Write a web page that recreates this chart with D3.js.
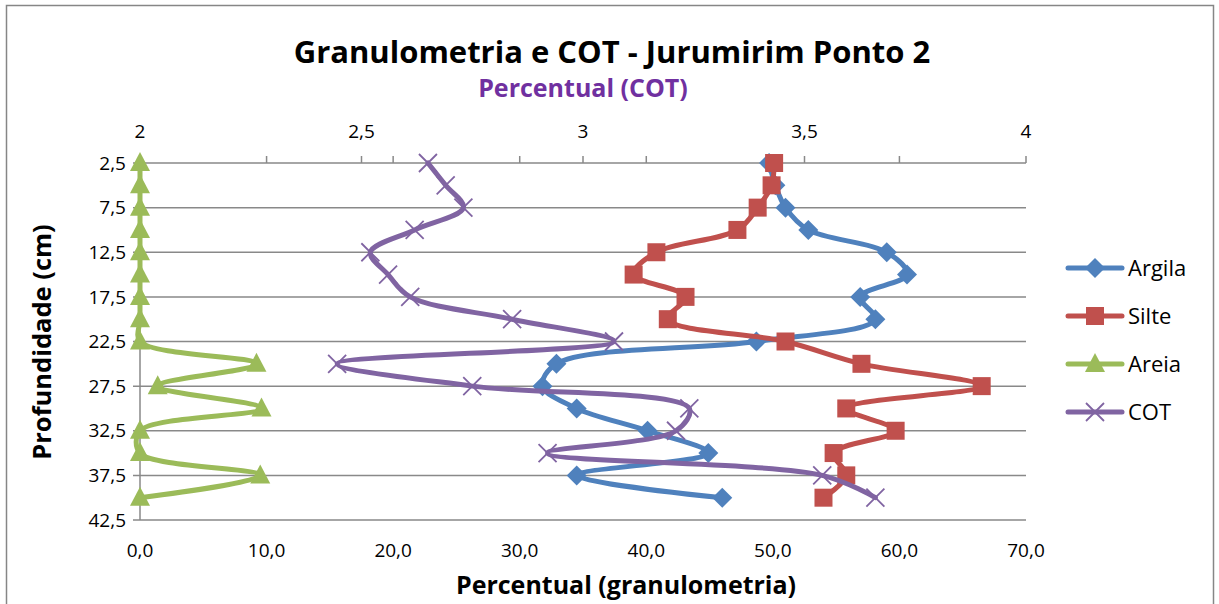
<!DOCTYPE html>
<html>
<head>
<meta charset="utf-8">
<script src="https://cdn.jsdelivr.net/npm/d3@7"></script>
<style>
  body { margin: 0; background: #fff; }
  svg text { font-family: "Open Sans", "Noto Sans", sans-serif; }
</style>
</head>
<body>
<div id="chart"></div>
<script>
//-- data
const depths = [2.5, 5, 7.5, 10, 12.5, 15, 17.5, 20, 22.5, 25, 27.5, 30, 32.5, 35, 37.5, 40];
const argila = [49.7, 50.2, 51.0, 52.8, 59.0, 60.6, 56.9, 58.1, 48.7, 32.9, 31.8, 34.5, 40.1, 44.9, 34.5, 46.0];
const silte = [50.1, 49.9, 48.8, 47.2, 40.8, 39.0, 43.1, 41.7, 51.0, 57.0, 66.5, 55.8, 59.7, 54.8, 55.8, 54.0];
const areia = [0, 0, 0, 0, 0, 0, 0, 0, 0, 9.2, 1.4, 9.6, 0, 0, 9.5, 0];
const cot = [2.65, 2.69, 2.73, 2.62, 2.52, 2.56, 2.61, 2.84, 3.07, 2.445, 2.75, 3.24, 3.21, 2.92, 3.54, 3.66];
const depthTicks = [2.5, 7.5, 12.5, 17.5, 22.5, 27.5, 32.5, 37.5, 42.5];
const bottomTicks = [0, 10, 20, 30, 40, 50, 60, 70];
const topTicks = [2, 2.5, 3, 3.5, 4];

const series = [
  { name: "Argila", values: argila, axis: "bottom", color: "#4F81BD", marker: "diamond" },
  { name: "Silte", values: silte, axis: "bottom", color: "#C0504D", marker: "square" },
  { name: "Areia", values: areia, axis: "bottom", color: "#9BBB59", marker: "triangle" },
  { name: "COT", values: cot, axis: "top", color: "#8064A2", marker: "x" }
];

//-- dimensions
const width = 1219, height = 604;
const plot = { left: 140, right: 1026, top: 163, bottom: 520 };
const gridColor = "#898989";
const fmt = (d) => d3.format(".1f")(d).replace(".", ",");
const fmtTop = (d) => String(d).replace(".", ",");

const svg = d3.select("#chart").append("svg")
  .attr("width", width).attr("height", height);

svg.append("rect")
  .attr("x", 6.5).attr("y", 5.5).attr("width", 1207).attr("height", 620)
  .attr("fill", "#fff").attr("stroke", "#868686").attr("stroke-width", 1.5);

const x = d3.scaleLinear().domain([0, 70]).range([plot.left, plot.right]);
const x2 = d3.scaleLinear().domain([2, 4]).range([plot.left, plot.right]);
const y = d3.scaleLinear().domain([2.5, 42.5]).range([plot.top, plot.bottom]);

//-- horizontal gridlines + left ticks
svg.append("g").selectAll("line").data(depthTicks).join("line")
  .attr("x1", plot.left - 7).attr("x2", plot.right)
  .attr("y1", (d) => y(d)).attr("y2", (d) => y(d))
  .attr("stroke", gridColor).attr("stroke-width", 1.5);

//-- left axis line
svg.append("line")
  .attr("x1", plot.left).attr("x2", plot.left)
  .attr("y1", plot.top).attr("y2", plot.bottom)
  .attr("stroke", gridColor).attr("stroke-width", 1.5);

//-- upward ticks on the top line (both scales)
const upTicks = topTicks.map((d) => x2(d)).concat(bottomTicks.slice(1, -1).map((d) => x(d)));
svg.append("g").selectAll("line").data(upTicks).join("line")
  .attr("x1", (d) => d).attr("x2", (d) => d)
  .attr("y1", plot.top).attr("y2", plot.top - 7)
  .attr("stroke", gridColor).attr("stroke-width", 1.5);

//-- tick labels
svg.append("g").selectAll("text").data(depthTicks).join("text")
  .attr("x", plot.left - 14).attr("y", (d) => y(d)).attr("dy", "0.35em")
  .attr("text-anchor", "end").attr("font-size", 19).attr("fill", "#000")
  .text(fmtTop);

svg.append("g").selectAll("text").data(bottomTicks).join("text")
  .attr("x", (d) => x(d)).attr("y", 557)
  .attr("text-anchor", "middle").attr("font-size", 19).attr("fill", "#000")
  .text(fmt);

svg.append("g").selectAll("text").data(topTicks).join("text")
  .attr("x", (d) => x2(d)).attr("y", 138)
  .attr("text-anchor", "middle").attr("font-size", 19).attr("fill", "#000")
  .text(fmtTop);

//-- titles
svg.append("text").attr("x", 612).attr("y", 63).attr("text-anchor", "middle")
  .attr("font-size", 31).attr("font-weight", "bold").attr("fill", "#000")
  .text("Granulometria e COT - Jurumirim Ponto 2");
svg.append("text").attr("x", 583).attr("y", 97).attr("text-anchor", "middle")
  .attr("font-size", 25).attr("font-weight", "bold").attr("fill", "#7030A0")
  .text("Percentual (COT)");
svg.append("text").attr("x", 626).attr("y", 594).attr("text-anchor", "middle")
  .attr("font-size", 25).attr("font-weight", "bold").attr("fill", "#000")
  .text("Percentual (granulometria)");
svg.append("text").attr("transform", "translate(51,342) rotate(-90)")
  .attr("text-anchor", "middle")
  .attr("font-size", 25.5).attr("font-weight", "bold").attr("fill", "#000")
  .text("Profundidade (cm)");

//-- markers
function drawMarker(g, type, color) {
  if (type === "diamond") {
    g.append("path").attr("d", "M0,-10L10,0L0,10L-10,0Z").attr("fill", color);
  } else if (type === "square") {
    g.append("rect").attr("x", -9).attr("y", -9).attr("width", 18).attr("height", 18).attr("fill", color);
  } else if (type === "triangle") {
    g.append("path").attr("d", "M0,-11L10,8L-10,8Z").attr("fill", color);
  } else {
    g.append("path").attr("d", "M-9,-9L9,9M-9,9L9,-9").attr("stroke", color).attr("stroke-width", 1.8).attr("fill", "none");
  }
}

//-- lines
series.forEach((s) => {
  const sx = s.axis === "top" ? x2 : x;
  const pts = s.values.map((v, i) => [sx(v), y(depths[i])]);
  const g = svg.append("g");
  g.append("path").datum(pts)
    .attr("d", d3.line().curve(d3.curveCatmullRom.alpha(0.5)))
    .attr("fill", "none").attr("stroke", s.color).attr("stroke-width", 5)
    .attr("stroke-linejoin", "round").attr("stroke-linecap", "round");
  g.selectAll("g.m").data(pts).join("g").attr("class", "m")
    .attr("transform", (d) => `translate(${d[0]},${d[1]})`)
    .each(function () { drawMarker(d3.select(this), s.marker, s.color); });
});

//-- legend
const legendY = [268, 316, 364, 412];
series.forEach((s, i) => {
  const g = svg.append("g").attr("transform", `translate(1095,${legendY[i]})`);
  g.append("line").attr("x1", -27).attr("x2", 27)
    .attr("stroke", s.color).attr("stroke-width", 5).attr("stroke-linecap", "round");
  drawMarker(g, s.marker, s.color);
  g.append("text").attr("x", 33).attr("dy", "0.35em").attr("font-size", 22)
    .attr("fill", "#000").text(s.name);
});
</script>
</body>
</html>
